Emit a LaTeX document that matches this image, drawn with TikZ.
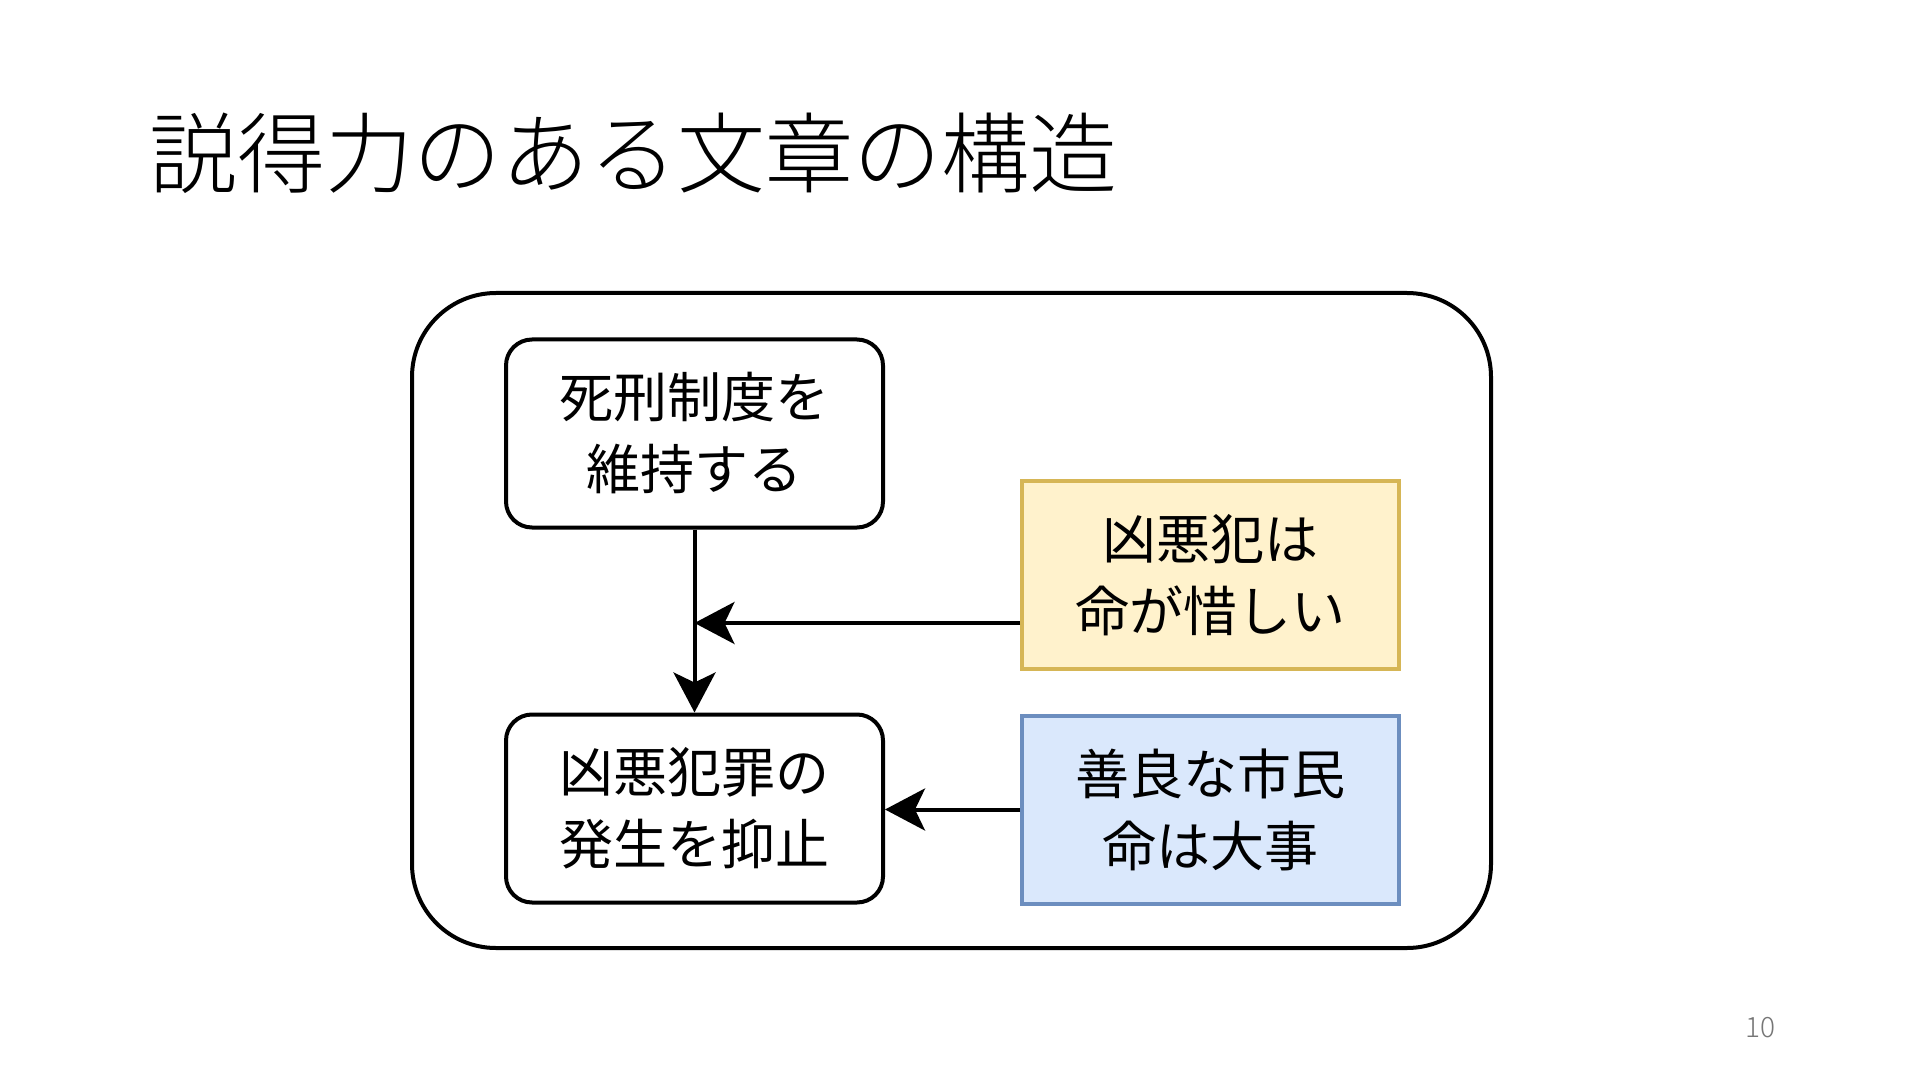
\documentclass[tikz,border=0pt]{standalone}
\usepackage{fontspec}
\newfontfamily\jp{Noto Sans CJK JP}
\newfontfamily\jplight{Noto Sans CJK JP Light}
\usetikzlibrary{arrows.meta,calc}
\definecolor{ylfill}{HTML}{FFF2CC}
\definecolor{ylline}{HTML}{D6B656}
\definecolor{blfill}{HTML}{DAE8FC}
\definecolor{blline}{HTML}{6C8EBF}
\definecolor{pgnum}{HTML}{767676}
\begin{document}
\begin{tikzpicture}[x=0.5pt,y=-0.5pt,
  boxtext/.style={font={\jp\fontsize{27pt}{36pt}\selectfont},align=center,
     minimum width=188.5pt,minimum height=94pt,inner sep=0pt,line width=2pt},
  roundbox/.style={boxtext,draw=black,fill=white,rounded corners=13pt},
  ybox/.style={boxtext,draw=ylline,fill=ylfill},
  bbox/.style={boxtext,draw=blline,fill=blfill},
  conn/.style={line width=2pt,-{Stealth[length=20pt,width=21pt,inset=5pt]}}
]
\useasboundingbox (0,0) rectangle (1920,1080);
\fill[white] (0,0) rectangle (1920,1080);
\node[anchor=west,inner sep=0pt,font={\jplight\fontsize{44pt}{50pt}\selectfont}] (title) at (149,153) {説得力のある文章の構造};
\draw[line width=2pt,rounded corners=42pt] (412,293) rectangle (1491,948);
\node[roundbox] (top) at (694.5,433.5) {死刑制度を\\維持する};
\node[roundbox] (bot) at (694.5,808.5) {凶悪犯罪の\\発生を抑止};
\node[ybox] (yel) at (1210.5,575) {凶悪犯は\\命が惜しい};
\node[bbox] (blu) at (1210.5,809.5) {善良な市民\\命は大事};
\coordinate (ys) at ($(yel.west)!0.5!(yel.south west)$);
\coordinate (j) at (top.south |- ys);
\draw[conn] (top.south) -- (bot.north);
\draw[conn] (ys) -- (j);
\draw[conn] (blu.west) -- (blu.west -| bot.east);
\node[font={\jplight\fontsize{14pt}{16pt}\selectfont},text=pgnum,inner sep=0pt] (pg) at (1760,1028) {10};
\end{tikzpicture}
\end{document}
